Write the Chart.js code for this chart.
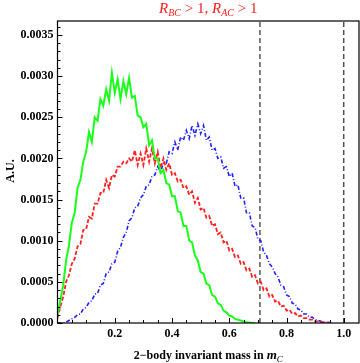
<!DOCTYPE html>
<html>
<head>
<meta charset="utf-8">
<script src="https://cdn.jsdelivr.net/npm/chart.js@4/dist/chart.umd.min.js"></script>
<style>
  html, body { margin: 0; padding: 0; background: #fff; }
  #wrap { width: 360px; height: 363px; position: relative; }
</style>
</head>
<body>
<div id="wrap"><canvas id="c"></canvas></div>
<script>
/* ===== DATA ===== */
// bin centres (2-body invariant mass in units of m_C)
const xs = Array.from({ length: 97 }, (_, i) => +(i * 0.01).toFixed(2));

const green = [
  0.00010, 0.00028, 0.00046, 0.00076, 0.00094, 0.00122, 0.00134, 0.00164, 0.00174, 0.00196,
  0.00208, 0.00232, 0.00220, 0.00250, 0.00246, 0.00272, 0.00264, 0.00284, 0.00270, 0.00304,
  0.00280, 0.00296, 0.00272, 0.00294, 0.00278, 0.00298, 0.00274, 0.00276, 0.00252, 0.00250,
  0.00238, 0.00242, 0.00216, 0.00222, 0.00200, 0.00200, 0.00182, 0.00186, 0.00170, 0.00168,
  0.00154, 0.00154, 0.00136, 0.00134, 0.00118, 0.00118, 0.00100, 0.00098, 0.00082, 0.00076,
  0.00062, 0.00060, 0.00048, 0.00046, 0.00034, 0.00032, 0.00024, 0.00022, 0.00015, 0.00013,
  0.00009, 0.00008, 0.00005, 0.00004, 0.00003, 0.00002, 0.00001, 0.000005, 0, 0
];

const red = [
  0.00006, 0.00020, 0.00032, 0.00050, 0.00058, 0.00072, 0.00078, 0.00093, 0.00096, 0.00113,
  0.00114, 0.00129, 0.00127, 0.00145, 0.00145, 0.00158, 0.00158, 0.00174, 0.00164, 0.00180,
  0.00178, 0.00190, 0.00190, 0.00196, 0.00194, 0.00200, 0.00196, 0.00210, 0.00192, 0.00206,
  0.00192, 0.00212, 0.00196, 0.00212, 0.00194, 0.00208, 0.00188, 0.00200, 0.00186, 0.00194,
  0.00180, 0.00182, 0.00172, 0.00174, 0.00164, 0.00166, 0.00156, 0.00160, 0.00146, 0.00152,
  0.00138, 0.00140, 0.00128, 0.00130, 0.00118, 0.00120, 0.00108, 0.00110, 0.00098, 0.00100,
  0.00088, 0.00090, 0.00080, 0.00082, 0.00072, 0.00074, 0.00064, 0.00066, 0.00056, 0.00058,
  0.00048, 0.00050, 0.00040, 0.00042, 0.00032, 0.00034, 0.00026, 0.00027, 0.00020, 0.00021,
  0.00015, 0.00016, 0.00011, 0.00012, 0.00008, 0.00009, 0.00006, 0.00006, 0.00004, 0.00004,
  0.00002, 0.00002, 0.00001, 0.00001, 0.000005, 0
];

const blue = [
  0, 0, 0, 0.00001, 0.00003, 0.00005, 0.00007, 0.00010, 0.00011, 0.00017,
  0.00019, 0.00025, 0.00027, 0.00035, 0.00036, 0.00046, 0.00048, 0.00060, 0.00062, 0.00072,
  0.00074, 0.00087, 0.00092, 0.00104, 0.00110, 0.00124, 0.00128, 0.00140, 0.00142, 0.00152,
  0.00156, 0.00166, 0.00168, 0.00178, 0.00180, 0.00190, 0.00184, 0.00194, 0.00194, 0.00208,
  0.00206, 0.00220, 0.00210, 0.00226, 0.00222, 0.00234, 0.00224, 0.00240, 0.00228, 0.00242,
  0.00230, 0.00240, 0.00222, 0.00226, 0.00210, 0.00212, 0.00200, 0.00202, 0.00188, 0.00190,
  0.00178, 0.00182, 0.00166, 0.00168, 0.00152, 0.00152, 0.00134, 0.00134, 0.00118, 0.00116,
  0.00102, 0.00100, 0.00086, 0.00082, 0.00072, 0.00068, 0.00060, 0.00056, 0.00046, 0.00044,
  0.00034, 0.00032, 0.00024, 0.00023, 0.00017, 0.00016, 0.00011, 0.00011, 0.00007, 0.00007,
  0.00004, 0.00003, 0.00002, 0.00001, 0.00001, 0.000005, 0
];

// kinematic edges (dashed)
const cutLines = [Math.SQRT1_2, 1.0];

const xTicks = [0.2, 0.4, 0.6, 0.8, 1.0];
const xMinor = Array.from({ length: 21 }, (_, i) => i * 0.05);
const yTicks = [0, 0.0005, 0.0010, 0.0015, 0.0020, 0.0025, 0.0030, 0.0035];
const yMinor = Array.from({ length: 37 }, (_, i) => i * 0.0001);

const X_MAX = 1.053;
const Y_MAX = 0.00367;

const SERIF = '"Liberation Serif", "DejaVu Serif", serif';

/* ===== HELPERS ===== */
const toPoints = (arr) => arr.map((y, i) => ({ x: xs[i], y }));

function drawRich(ctx, parts, cx, baseline, color) {
  ctx.save();
  ctx.fillStyle = color;
  ctx.textBaseline = 'alphabetic';
  ctx.textAlign = 'left';
  let w = 0;
  parts.forEach(p => { ctx.font = p.f; w += ctx.measureText(p.t).width; });
  let x = cx - w / 2;
  parts.forEach(p => {
    ctx.font = p.f;
    ctx.fillText(p.t, x, baseline + p.dy);
    x += ctx.measureText(p.t).width;
  });
  ctx.restore();
}

// frame, inward ticks, title and axis labels (Mathematica look)
const framePlugin = {
  id: 'frame',
  afterDraw(chart) {
    const { ctx, chartArea: a, scales } = chart;
    const sx = scales.x, sy = scales.y;
    ctx.save();

    ctx.strokeStyle = '#000';
    ctx.lineWidth = 1.2;
    ctx.strokeRect(a.left, a.top, a.right - a.left, a.bottom - a.top);

    ctx.lineWidth = 1;
    ctx.beginPath();
    xMinor.forEach(v => {
      if (v <= 0) return;
      const px = Math.round(sx.getPixelForValue(v)) + 0.5;
      const major = xTicks.some(t => Math.abs(t - v) < 1e-9);
      ctx.moveTo(px, a.bottom);
      ctx.lineTo(px, a.bottom - (major ? 5 : 3));
    });
    yMinor.forEach((v, i) => {
      const py = Math.round(sy.getPixelForValue(v)) + 0.5;
      const major = i % 5 === 0;
      ctx.moveTo(a.left, py);
      ctx.lineTo(a.left + (major ? 5 : 3), py);
    });
    ctx.stroke();

    // title: R_BC > 1, R_AC > 1
    const title = [
      { t: 'R', f: 'italic 15px ' + SERIF, dy: 0 },
      { t: 'BC', f: 'italic 10px ' + SERIF, dy: 3 },
      { t: ' > 1, ', f: '15px ' + SERIF, dy: 0 },
      { t: 'R', f: 'italic 15px ' + SERIF, dy: 0 },
      { t: 'AC', f: 'italic 10px ' + SERIF, dy: 3 },
      { t: ' > 1', f: '15px ' + SERIF, dy: 0 }
    ];
    drawRich(ctx, title, (a.left + a.right) / 2, 13, '#ff1a1a');

    // x label
    const xl = [
      { t: '2\u2212body invariant mass in ', f: 'bold 12px ' + SERIF, dy: 0 },
      { t: 'm', f: 'bold italic 13px ' + SERIF, dy: 0 },
      { t: 'C', f: 'italic 9px ' + SERIF, dy: 3 }
    ];
    drawRich(ctx, xl, (a.left + a.right) / 2, 359, '#000');

    // y label
    ctx.translate(14, 171);
    ctx.rotate(-Math.PI / 2);
    ctx.font = 'bold 12px ' + SERIF;
    ctx.fillStyle = '#000';
    ctx.textAlign = 'center';
    ctx.textBaseline = 'alphabetic';
    ctx.fillText('A.U.', 0, 0);
    ctx.restore();
  }
};

/* ===== CHART ===== */
const lineSet = (data, color, dash, width) => ({
  data,
  showLine: true,
  borderColor: color,
  borderWidth: width,
  borderDash: dash,
  pointRadius: 0,
  tension: 0,
  fill: false
});

const datasets = [
  lineSet(toPoints(green), '#1aff1a', [], 2),
  lineSet(toPoints(red), '#ff2020', [4, 2], 1.8),
  lineSet(toPoints(blue), '#2020ff', [4, 2, 1, 2], 1.6)
];
cutLines.forEach(c => {
  datasets.push(lineSet([{ x: c, y: 0 }, { x: c, y: Y_MAX }], '#000', [5, 3], 1));
});

new Chart(document.getElementById('c'), {
  type: 'scatter',
  data: { datasets },
  options: {
    responsive: true,
    maintainAspectRatio: false,
    animation: false,
    layout: { padding: { top: 21, right: 1, left: 0, bottom: 0 } },
    plugins: { legend: { display: false }, tooltip: { enabled: false } },
    scales: {
      x: {
        type: 'linear',
        min: 0,
        max: X_MAX,
        grid: { display: false, drawTicks: false },
        border: { display: false },
        afterBuildTicks: s => { s.ticks = xTicks.map(v => ({ value: v })); },
        afterFit: s => { s.height = 40; },
        ticks: {
          padding: 4,
          color: '#000',
          font: { family: SERIF, weight: 'bold', size: 12 },
          maxRotation: 0,
          callback: v => v.toFixed(1)
        }
      },
      y: {
        type: 'linear',
        min: 0,
        max: Y_MAX,
        grid: { display: false, drawTicks: false },
        border: { display: false },
        afterBuildTicks: s => { s.ticks = yTicks.map(v => ({ value: v })); },
        afterFit: s => { s.width = 57.5; },
        ticks: {
          padding: 4,
          color: '#000',
          font: { family: SERIF, weight: 'bold', size: 12 },
          callback: v => v.toFixed(4)
        }
      }
    }
  },
  plugins: [framePlugin]
});
</script>
</body>
</html>
